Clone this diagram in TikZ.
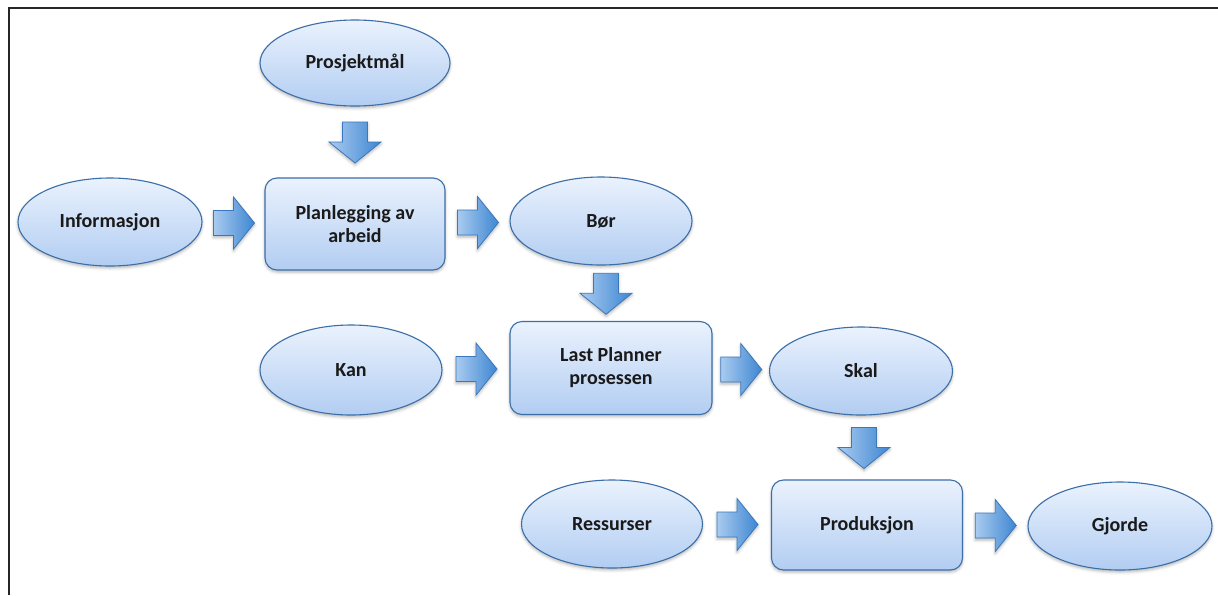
\documentclass[tikz,border=0pt]{standalone}
\usepackage{fontspec}
\setmainfont{Carlito}
\usetikzlibrary{calc,shapes.geometric,shadows.blur}

\definecolor{edgeblue}{HTML}{3C6FA8}
\definecolor{filltop}{HTML}{EAF2FD}
\definecolor{fillbot}{HTML}{B2CDF2}
\definecolor{arrowlight}{HTML}{A9CBEF}
\definecolor{arrowdark}{HTML}{3E86D2}
\definecolor{arrowedge}{HTML}{3A77BC}
\definecolor{textdark}{HTML}{1A1A1A}

\tikzset{
  softshadow/.style={blur shadow={shadow xshift=0pt, shadow yshift=-2pt,
      shadow blur radius=3pt, shadow opacity=30}},
  stage/.style={draw=edgeblue, line width=1.1pt, top color=filltop,
      bottom color=fillbot, text=textdark, align=center, inner sep=0pt,
      font=\fontsize{20}{23}\selectfont\bfseries, softshadow},
  oval/.style={stage, ellipse},
  task/.style={stage, rectangle, rounded corners=12pt},
  blockarrow/.pic={
    \path[draw=arrowedge, line width=0.8pt, left color=arrowlight,
          right color=arrowdark, softshadow]
      (-20,-12.5) -- (0,-12.5) -- (0,-26) -- (21,0) -- (0,26)
      -- (0,12.5) -- (-20,12.5) -- cycle;
  }
}

\begin{document}
\begin{tikzpicture}[x=1pt, y=-1pt]
  \useasboundingbox (0,0) rectangle (1218,595);

  % frame edges
  \draw[black!85, line width=2pt] (9,595) -- (9,8) -- (1218,8);

  % planning level
  \node[oval, minimum width=190pt, minimum height=86pt] (proj) at (355,63) {Prosjektmål};
  \node[oval, minimum width=184pt, minimum height=88pt] (info) at (110,222) {Informasjon};
  \node[task, minimum width=180pt, minimum height=92pt] (plan) at (355,224) {Planlegging av\\arbeid};
  \node[oval, minimum width=182pt, minimum height=88pt] (bor) at (601,221) {Bør};

  % last planner level
  \node[oval, minimum width=182pt, minimum height=90pt] (kan) at (351,370) {Kan};
  \node[task, minimum width=202pt, minimum height=93pt] (lp) at (611,368) {Last Planner\\prosessen};
  \node[oval, minimum width=183pt, minimum height=88pt] (skal) at (861,371) {Skal};

  % production level
  \node[oval, minimum width=181pt, minimum height=88pt] (res) at (612,524) {Ressurser};
  \node[task, minimum width=191pt, minimum height=90pt] (prod) at (867,525) {Produksjon};
  \node[oval, minimum width=184pt, minimum height=88pt] (gjorde) at (1120,526) {Gjorde};

  % block arrows between stages
  \pic[rotate=-90] at ($(proj.south)!0.5!(plan.north)$) {blockarrow};
  \pic at ($(info.east)!0.5!(plan.west)$) {blockarrow};
  \pic at ($(plan.east)!0.5!(bor.west)$) {blockarrow};
  \pic[rotate=-90] at ($(bor.south)!0.5!(lp.north)$) {blockarrow};
  \pic at ($(kan.east)!0.5!(lp.west)$) {blockarrow};
  \pic at ($(lp.east)!0.5!(skal.west)$) {blockarrow};
  \pic[rotate=-90] at ($(skal.south)!0.5!(prod.north)$) {blockarrow};
  \pic at ($(res.east)!0.5!(prod.west)$) {blockarrow};
  \pic at ($(prod.east)!0.5!(gjorde.west)$) {blockarrow};
\end{tikzpicture}
\end{document}
